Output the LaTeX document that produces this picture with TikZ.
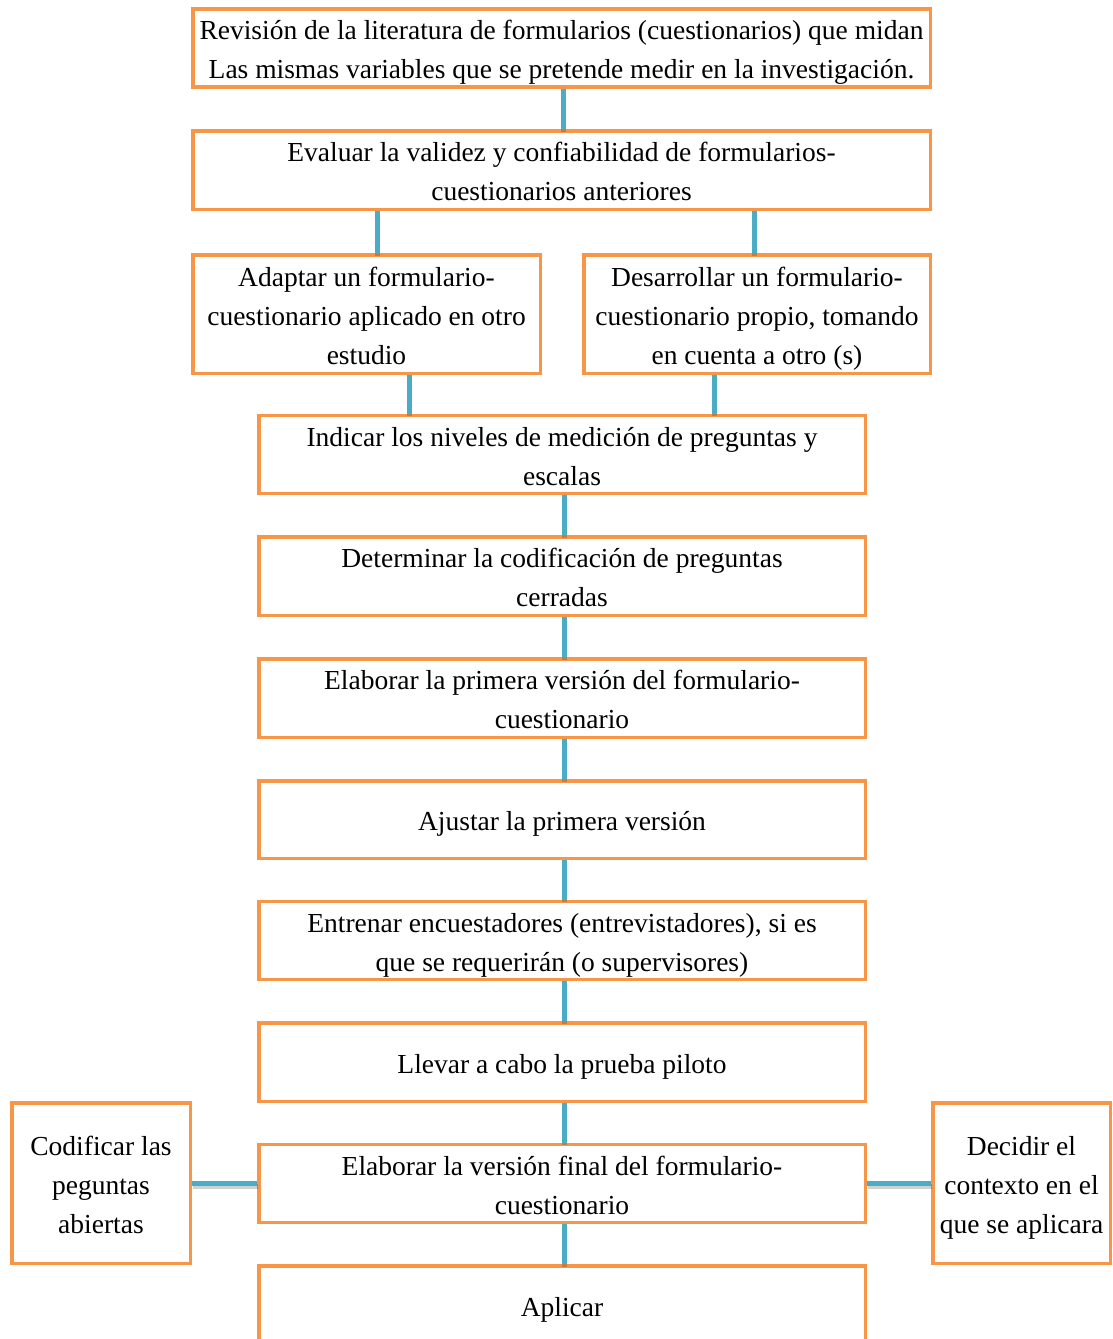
\documentclass[tikz,border=0pt]{standalone}
\usepackage{fontspec}
\setmainfont{Liberation Serif}
\usetikzlibrary{calc}
\definecolor{boxorange}{HTML}{F79646}
\definecolor{linkblue}{HTML}{4BACC6}
% centred lines, set a little lower than the geometric middle of the box
\newcommand\boxlines[1]{\raisebox{-3.5pt}[\height][\depth]{\begin{tabular}{@{}c@{}}#1\end{tabular}}}
\begin{document}
\begin{tikzpicture}[x=1pt,y=-1pt,
  box/.style={draw=boxorange, line width=3.5pt, fill=white, inner sep=0pt,
    font=\fontsize{27.5}{39}\selectfont},
  conn/.style={draw=linkblue, line width=5pt,
    preaction={draw=black, opacity=0.18, line width=5pt,
      transform canvas={shift={(0.5pt,-2.5pt)}}}}]
\useasboundingbox (0,0) rectangle (1113,1339);
\clip (0,0) rectangle (1113,1339);
\fill[white] (0,0) rectangle (1113,1339);

% main column of steps
\node[box, minimum width=737.5pt, minimum height=76.5pt] (n1) at (561.5,48)
  {\boxlines{Revisión de la literatura de formularios (cuestionarios) que midan\\
   Las mismas variables que se pretende medir en la investigación.}};
\node[box, minimum width=737.5pt, minimum height=78.5pt] (n2) at (561.5,170)
  {\boxlines{Evaluar la validez y confiabilidad de formularios-\\cuestionarios anteriores}};
\node[box, minimum width=347.5pt, minimum height=118.5pt] (n3) at (366.5,314)
  {\boxlines{Adaptar un formulario-\\cuestionario aplicado en otro\\estudio}};
\node[box, minimum width=346.5pt, minimum height=118.5pt] (n4) at (757,314)
  {\boxlines{Desarrollar un formulario-\\cuestionario propio, tomando\\en cuenta a otro (s)}};
\node[box, minimum width=606.5pt, minimum height=77.5pt] (n5) at (562,454.5)
  {\boxlines{Indicar los niveles de medición de preguntas y\\escalas}};
\node[box, minimum width=606.5pt, minimum height=78.5pt] (n6) at (562,576)
  {\boxlines{Determinar la codificación de preguntas\\cerradas}};
\node[box, minimum width=606.5pt, minimum height=78.5pt] (n7) at (562,698)
  {\boxlines{Elaborar la primera versión del formulario-\\cuestionario}};
\node[box, minimum width=606.5pt, minimum height=77.5pt] (n8) at (562,819.5)
  {\boxlines{Ajustar la primera versión}};
\node[box, minimum width=606.5pt, minimum height=77.5pt] (n9) at (562,940.5)
  {\boxlines{Entrenar encuestadores (entrevistadores), si es\\que se requerirán (o supervisores)}};
\node[box, minimum width=606.5pt, minimum height=78.5pt] (n10) at (562,1062)
  {\boxlines{Llevar a cabo la prueba piloto}};
\node[box, minimum width=606.5pt, minimum height=77.5pt] (n11) at (562,1183.5)
  {\boxlines{Elaborar la versión final del formulario-\\cuestionario}};
\node[box, minimum width=606.5pt, minimum height=78.5pt] (n12) at (562,1305)
  {\boxlines{Aplicar}};

% side tasks
\node[box, minimum width=178.5pt, minimum height=160.5pt] (cod) at (101,1183)
  {\boxlines{Codificar las\\peguntas\\abiertas}};
\node[box, minimum width=177.5pt, minimum height=160.5pt] (ctx) at (1021.5,1183)
  {\boxlines{Decidir el\\contexto en el\\que se aplicara}};

% connectors
\draw[conn] ([xshift=1.5pt]n1.south) -- ([xshift=1.5pt]n1.south |- n2.north);
\draw[conn] ([xshift=10.5pt]n3.north |- n2.south) -- ([xshift=10.5pt]n3.north);
\draw[conn] ([xshift=-3pt]n4.north |- n2.south) -- ([xshift=-3pt]n4.north);
\draw[conn] ([xshift=42.5pt]n3.south) -- ([xshift=42.5pt]n3.south |- n5.north);
\draw[conn] ([xshift=-43pt]n4.south) -- ([xshift=-43pt]n4.south |- n5.north);
\foreach \a/\b in {n5/n6, n6/n7, n7/n8, n8/n9, n9/n10, n10/n11, n11/n12}
  \draw[conn] ([xshift=2pt]\a.south) -- ([xshift=2pt]\b.north);
\draw[conn] (cod.east |- n11.west) -- (n11.west);
\draw[conn] (n11.east) -- (ctx.west |- n11.east);
\end{tikzpicture}
\end{document}
